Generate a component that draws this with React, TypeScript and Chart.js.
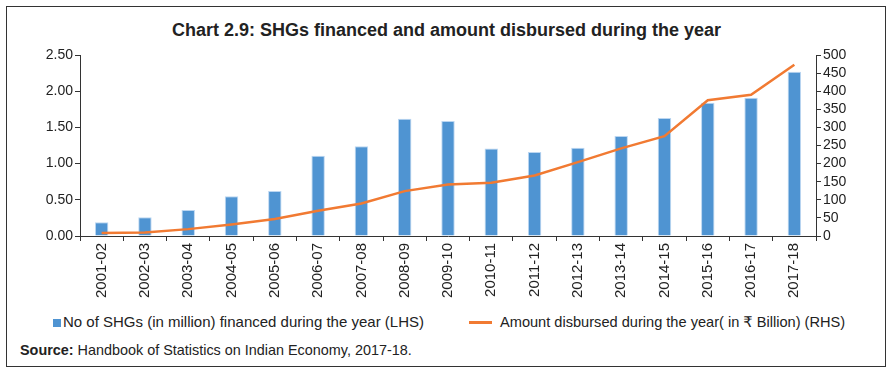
import React, { useEffect, useRef } from "react";
import { Chart, registerables } from "chart.js";

Chart.register(...registerables);

const categories = [
  "2001-02", "2002-03", "2003-04", "2004-05", "2005-06", "2006-07", "2007-08", "2008-09", "2009-10",
  "2010-11", "2011-12", "2012-13", "2013-14", "2014-15", "2015-16", "2016-17", "2017-18",
];
const shgsFinanced = [0.19, 0.26, 0.36, 0.55, 0.62, 1.11, 1.24, 1.62, 1.59, 1.21, 1.16, 1.22, 1.38, 1.63, 1.84, 1.91, 2.27];
const amountDisbursed = [8, 10, 19, 32, 47, 70, 90, 124, 142, 147, 167, 204, 242, 276, 375, 390, 473];
const leftTicks = [0, 0.5, 1, 1.5, 2, 2.5];
const rightTicks = [0, 50, 100, 150, 200, 250, 300, 350, 400, 450, 500];

const FONT = "'Liberation Sans', Arial, 'DejaVu Sans', 'Noto Sans', sans-serif";
const BLUE = "rgb(79,148,210)";
const ORANGE = "rgb(241,122,50)";

export default function App() {
  const ref = useRef<HTMLCanvasElement | null>(null);
  useEffect(() => {
    document.body.style.margin = "0";
    const ctx = ref.current!.getContext("2d")!;
    const tickFont = { family: FONT, size: 14 };
    const xFont = { family: FONT, size: 15 };
    const chart = new Chart(ctx, {
      type: "bar",
      data: {
        labels: categories,
        datasets: [
          {
            type: "line",
            label: "Amount disbursed during the year( in ₹ Billion) (RHS)",
            data: amountDisbursed,
            yAxisID: "y1",
            borderColor: ORANGE,
            backgroundColor: ORANGE,
            borderWidth: 2.5,
            pointRadius: 0,
            tension: 0,
            order: 0,
          },
          {
            type: "bar",
            label: "No of SHGs (in million) financed during the year (LHS)",
            data: shgsFinanced,
            yAxisID: "y",
            backgroundColor: BLUE,
            borderColor: "rgba(180,210,240,0.9)",
            borderWidth: 1,
            categoryPercentage: 1,
            barPercentage: 0.31,
            order: 1,
          },
        ],
      },
      options: {
        animation: false,
        responsive: false,
        maintainAspectRatio: false,
        layout: { padding: { left: 10, right: 10, top: 15, bottom: 0 } },
        plugins: { legend: { display: false }, title: { display: false }, tooltip: { enabled: false } },
        scales: {
          x: {
            offset: true,
            grid: { drawOnChartArea: false, drawTicks: true, tickLength: 5, color: "#333", offset: true },
            border: { display: true, color: "#333", width: 1 },
            ticks: { color: "#222", font: xFont, minRotation: 90, maxRotation: 90, padding: 2, autoSkip: false },
            afterFit: (s: any) => { s.height = 74; },
          },
          y: {
            position: "left",
            min: 0,
            max: 2.5,
            afterBuildTicks: (s: any) => { s.ticks = leftTicks.map((v) => ({ value: v })); },
            grid: { drawOnChartArea: false, drawTicks: true, tickLength: 5, color: "#333" },
            border: { display: true, color: "#333", width: 1 },
            ticks: { color: "#222", font: tickFont, padding: 2, autoSkip: false, callback: (v: any) => Number(v).toFixed(2) },
            afterFit: (s: any) => { s.width = 70; },
          },
          y1: {
            position: "right",
            min: 0,
            max: 500,
            afterBuildTicks: (s: any) => { s.ticks = rightTicks.map((v) => ({ value: v })); },
            grid: { drawOnChartArea: false, drawTicks: true, tickLength: 5, color: "#333" },
            border: { display: true, color: "#333", width: 1 },
            ticks: { color: "#222", font: tickFont, padding: 2, autoSkip: false },
            afterFit: (s: any) => { s.width = 67; },
          },
        },
      },
    } as any);
    return () => chart.destroy();
  }, []);

  const textBase: React.CSSProperties = { position: "absolute", fontFamily: FONT, color: "#222", whiteSpace: "nowrap" };

  return (
    <div style={{ position: "absolute", left: 0, top: 0, width: 893, height: 377, background: "#fff", overflow: "hidden" }}>
      <div style={{ position: "absolute", left: 6, top: 6, width: 880, height: 361, border: "1px solid #333", boxSizing: "border-box" }} />
      <div style={{ ...textBase, left: 0, top: 19, width: 893, textAlign: "center", fontWeight: "bold", fontSize: 18, lineHeight: "22px" }}>
        Chart 2.9: SHGs financed and amount disbursed during the year
      </div>
      <canvas ref={ref} width={893} height={270} style={{ position: "absolute", left: 0, top: 40, width: 893, height: 270 }} />
      <div style={{ position: "absolute", left: 53, top: 319, width: 8, height: 8, background: BLUE }} />
      <div style={{ ...textBase, left: 63, top: 313, fontSize: 15, lineHeight: "18px" }}>
        No of SHGs (in million) financed during the year (LHS)
      </div>
      <div style={{ position: "absolute", left: 469, top: 321, width: 23, height: 3, background: ORANGE }} />
      <div style={{ ...textBase, left: 500, top: 313, fontSize: 14.6, lineHeight: "18px" }}>
        Amount disbursed during the year( in ₹ Billion) (RHS)
      </div>
      <div style={{ ...textBase, left: 20, top: 341, fontSize: 14.4, lineHeight: "18px" }}>
        <b>Source:</b> Handbook of Statistics on Indian Economy, 2017-18.
      </div>
    </div>
  );
}
